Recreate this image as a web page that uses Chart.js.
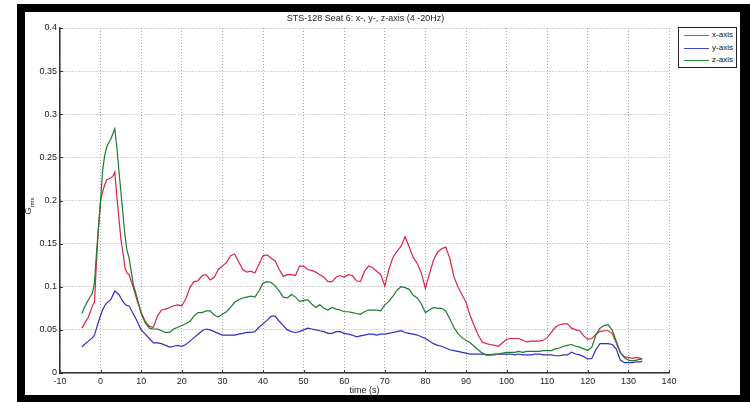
<!DOCTYPE html>
<html>
<head>
<meta charset="utf-8">
<script src="https://cdn.jsdelivr.net/npm/chart.js@4.4.0/dist/chart.umd.min.js"></script>
<style>
  body { margin: 0; background: #fff; width: 750px; height: 402px; overflow: hidden; position: relative; font-family: "Liberation Sans", Arial, sans-serif; }
  #frame { position: absolute; left: 17px; top: 4px; width: 733px; height: 398px; background: #000; }
  #wrap { position: absolute; left: 25px; top: 12px; width: 715px; height: 383px; background: #fff; }
  #legend { position: absolute; left: 678px; top: 27px; width: 57px; height: 39px; border: 1px solid #222; background: #fff; font-size: 8px; color: #111; }
  .row { position: absolute; left: 0; width: 57px; height: 12px; }
  .row i { position: absolute; left: 5px; top: 6px; width: 25px; height: 0; border-top: 1.3px solid; }
  .row span { position: absolute; right: 3px; top: 1px; line-height: 10px; }
</style>
</head>
<body>
<div id="frame"></div>
<div id="wrap"><canvas id="canvas" width="715" height="383"></canvas></div>
<div id="legend">
  <div class="row" style="top:1px"><i style="border-color:#e3405f"></i><span>x-axis</span></div>
  <div class="row" style="top:14px"><i style="border-color:#4646d0"></i><span>y-axis</span></div>
  <div class="row" style="top:26px"><i style="border-color:#1f8a2e"></i><span>z-axis</span></div>
</div>
<script>
// time axis in seconds
var time = [-4.6, -4, -3, -2, -1.5, -1, -0.5, 0, 0.5, 1, 1.5, 2, 2.5, 3, 3.5, 4, 4.5, 5, 5.5, 6, 6.5, 7,
  8, 9, 10, 11, 12, 13, 14, 15, 16, 17, 18, 19, 20, 21, 22, 23, 24, 25, 26, 27, 28, 29, 30,
  31, 32, 33, 34, 35, 36, 37, 38, 39, 40, 41, 42, 43, 44, 45, 46, 47, 48, 49, 50,
  51, 52, 53, 54, 55, 56, 57, 58, 59, 60, 61, 62, 63, 64, 65, 66, 67, 68, 69, 70,
  71, 72, 73, 74, 75, 76, 77, 78, 79, 80, 81, 82, 83, 84, 85, 86, 87, 88, 89, 90,
  91, 92, 93, 94, 95, 96, 97, 98, 99, 100, 101, 102, 103, 104, 105, 106, 107, 108, 109, 110,
  111, 112, 113, 114, 115, 116, 117, 118, 119, 120, 121, 122, 123, 124, 125, 126, 127, 128, 129, 130,
  131, 132, 133, 133.4];

var xAxis = [0.052, 0.057, 0.065, 0.078, 0.082, 0.13, 0.17, 0.2, 0.21, 0.218, 0.224, 0.225, 0.226, 0.228, 0.233, 0.205, 0.18, 0.155, 0.14, 0.122, 0.116, 0.114,
  0.1, 0.084, 0.07, 0.06, 0.054, 0.053, 0.066, 0.073, 0.074, 0.076, 0.078, 0.079, 0.078, 0.086, 0.099, 0.106, 0.107, 0.113, 0.114, 0.108, 0.111, 0.12, 0.124,
  0.128, 0.136, 0.138, 0.129, 0.12, 0.117, 0.118, 0.116, 0.126, 0.136, 0.137, 0.133, 0.13, 0.12, 0.112, 0.114, 0.114, 0.113, 0.124, 0.124,
  0.12, 0.119, 0.117, 0.114, 0.111, 0.106, 0.106, 0.111, 0.113, 0.111, 0.114, 0.113, 0.107, 0.106, 0.118, 0.124, 0.122, 0.118, 0.114, 0.101,
  0.12, 0.134, 0.141, 0.147, 0.158, 0.146, 0.134, 0.127, 0.116, 0.098, 0.115, 0.131, 0.14, 0.144, 0.146, 0.133, 0.112, 0.1, 0.091, 0.082,
  0.067, 0.055, 0.044, 0.036, 0.034, 0.033, 0.032, 0.031, 0.035, 0.039, 0.04, 0.04, 0.04, 0.038, 0.036, 0.037, 0.037, 0.037, 0.038, 0.041,
  0.047, 0.053, 0.056, 0.057, 0.057, 0.052, 0.05, 0.049, 0.043, 0.039, 0.04, 0.045, 0.048, 0.049, 0.049, 0.046, 0.035, 0.024, 0.019, 0.018,
  0.017, 0.018, 0.017, 0.016];

var yAxis = [0.03, 0.033, 0.037, 0.041, 0.044, 0.052, 0.06, 0.067, 0.073, 0.078, 0.081, 0.083, 0.085, 0.09, 0.095, 0.093, 0.091, 0.087, 0.083, 0.08, 0.078, 0.078,
  0.069, 0.06, 0.05, 0.045, 0.04, 0.035, 0.035, 0.034, 0.032, 0.03, 0.031, 0.032, 0.031, 0.033, 0.037, 0.041, 0.045, 0.049, 0.051, 0.05, 0.048, 0.046, 0.044,
  0.044, 0.044, 0.044, 0.045, 0.046, 0.047, 0.047, 0.048, 0.053, 0.057, 0.061, 0.066, 0.066, 0.06, 0.055, 0.05, 0.048, 0.047, 0.048, 0.05,
  0.052, 0.051, 0.05, 0.049, 0.048, 0.046, 0.046, 0.048, 0.048, 0.046, 0.045, 0.044, 0.042, 0.043, 0.044, 0.045, 0.045, 0.044, 0.045, 0.045,
  0.046, 0.047, 0.048, 0.049, 0.047, 0.046, 0.045, 0.044, 0.042, 0.04, 0.037, 0.034, 0.032, 0.031, 0.029, 0.027, 0.026, 0.025, 0.024, 0.023,
  0.022, 0.022, 0.022, 0.022, 0.021, 0.021, 0.022, 0.022, 0.022, 0.022, 0.022, 0.021, 0.022, 0.021, 0.021, 0.021, 0.022, 0.022, 0.021, 0.021,
  0.021, 0.02, 0.02, 0.021, 0.021, 0.024, 0.022, 0.021, 0.019, 0.016, 0.017, 0.027, 0.034, 0.034, 0.034, 0.033, 0.028, 0.015, 0.012, 0.012,
  0.012, 0.013, 0.013, 0.014];

var zAxis = [0.069, 0.076, 0.085, 0.093, 0.105, 0.14, 0.17, 0.2, 0.235, 0.252, 0.262, 0.267, 0.271, 0.277, 0.283, 0.262, 0.235, 0.21, 0.185, 0.16, 0.142, 0.134,
  0.104, 0.087, 0.069, 0.058, 0.052, 0.051, 0.051, 0.049, 0.047, 0.047, 0.051, 0.053, 0.055, 0.057, 0.06, 0.066, 0.07, 0.07, 0.072, 0.072, 0.067, 0.065, 0.068,
  0.071, 0.076, 0.082, 0.085, 0.087, 0.088, 0.089, 0.088, 0.095, 0.104, 0.106, 0.105, 0.101, 0.095, 0.088, 0.087, 0.091, 0.088, 0.083, 0.084,
  0.085, 0.08, 0.076, 0.079, 0.075, 0.073, 0.076, 0.074, 0.073, 0.071, 0.071, 0.07, 0.069, 0.068, 0.071, 0.073, 0.073, 0.073, 0.072, 0.079,
  0.083, 0.089, 0.096, 0.1, 0.099, 0.097, 0.09, 0.087, 0.08, 0.07, 0.073, 0.076, 0.075, 0.075, 0.072, 0.063, 0.053, 0.046, 0.041, 0.038,
  0.035, 0.031, 0.027, 0.023, 0.021, 0.021, 0.021, 0.022, 0.023, 0.024, 0.024, 0.024, 0.025, 0.024, 0.025, 0.025, 0.025, 0.025, 0.026, 0.026,
  0.026, 0.028, 0.029, 0.031, 0.032, 0.033, 0.031, 0.03, 0.028, 0.026, 0.03, 0.044, 0.052, 0.055, 0.056, 0.05, 0.037, 0.024, 0.018, 0.015,
  0.014, 0.015, 0.016, 0.016];

var chartTitle = 'STS-128 Seat 6: x-, y-, z-axis (4 -20Hz)';
var xLabel = 'time (s)';
var FONT = '"Liberation Sans", Arial, sans-serif';

function pts(vals) {
  return time.map(function (t, i) { return { x: t, y: vals[i] }; });
}

// title, G_rms label and the small inward tick marks matlab draws
var extras = {
  id: 'extras',
  afterDraw: function (chart) {
    var c = chart.ctx, a = chart.chartArea;
    var xs = chart.scales.x, ys = chart.scales.y;
    c.save();
    c.strokeStyle = '#333';
    c.lineWidth = 1;
    xs.ticks.forEach(function (tk) {
      var px = Math.round(xs.getPixelForValue(tk.value)) + 0.5;
      c.beginPath(); c.moveTo(px, a.bottom); c.lineTo(px, a.bottom - 3); c.stroke();
    });
    ys.ticks.forEach(function (tk) {
      var py = Math.round(ys.getPixelForValue(tk.value)) + 0.5;
      c.beginPath(); c.moveTo(a.left, py); c.lineTo(a.left + 3, py); c.stroke();
    });
    c.fillStyle = '#222';
    c.font = '9px ' + FONT;
    c.textAlign = 'center';
    c.textBaseline = 'middle';
    c.fillText(chartTitle, (a.left + a.right) / 2 + 1, 7);
    // y label, rotated, with subscript
    c.translate(4, 194);
    c.rotate(-Math.PI / 2);
    c.textAlign = 'left';
    c.font = '9px ' + FONT;
    var wG = c.measureText('G').width;
    c.font = '6px ' + FONT;
    var wS = c.measureText('rms').width;
    var x0 = -(wG + wS) / 2;
    c.font = '9px ' + FONT;
    c.fillText('G', x0, 0);
    c.font = '6px ' + FONT;
    c.fillText('rms', x0 + wG, 3);
    c.restore();
  }
};

var gridColor = '#a8a8a8';

const ctx = document.getElementById('canvas').getContext('2d');
const myChart = new Chart(ctx, {
  type: 'line',
  data: {
    datasets: [
      { label: 'x-axis', data: pts(xAxis), borderColor: '#dc2346', borderWidth: 1.2, pointRadius: 0, order: 3 },
      { label: 'y-axis', data: pts(yAxis), borderColor: '#2f2fc4', borderWidth: 1.2, pointRadius: 0, order: 2 },
      { label: 'z-axis', data: pts(zAxis), borderColor: '#1c7d2a', borderWidth: 1.2, pointRadius: 0, order: 1 }
    ]
  },
  options: {
    responsive: false,
    animation: false,
    layout: { padding: { left: 0, top: 16, right: 71, bottom: 0 } },
    plugins: { legend: { display: false }, title: { display: false }, tooltip: { enabled: false } },
    scales: {
      x: {
        type: 'linear', min: -10, max: 140,
        grid: { color: gridColor, lineWidth: 1, drawTicks: false },
        border: { color: '#333', width: 1.5, dash: [1, 2] },
        ticks: { stepSize: 10, padding: 3, color: '#222', font: { family: FONT, size: 9 }, maxRotation: 0 },
        title: { display: true, text: xLabel, color: '#222', font: { family: FONT, size: 9 }, padding: { top: 0, bottom: -1 } },
        afterFit: function (s) { s.height = 22; }
      },
      y: {
        min: 0, max: 0.4,
        grid: { color: gridColor, lineWidth: 1, drawTicks: false },
        border: { color: '#333', width: 1.5, dash: [1, 2] },
        ticks: { stepSize: 0.05, padding: 3, color: '#222', font: { family: FONT, size: 9 },
          callback: function (v) { return String(+v.toFixed(2)); } },
        afterFit: function (s) { s.width = 35; }
      }
    }
  },
  plugins: [extras]
});
</script>
</body>
</html>
